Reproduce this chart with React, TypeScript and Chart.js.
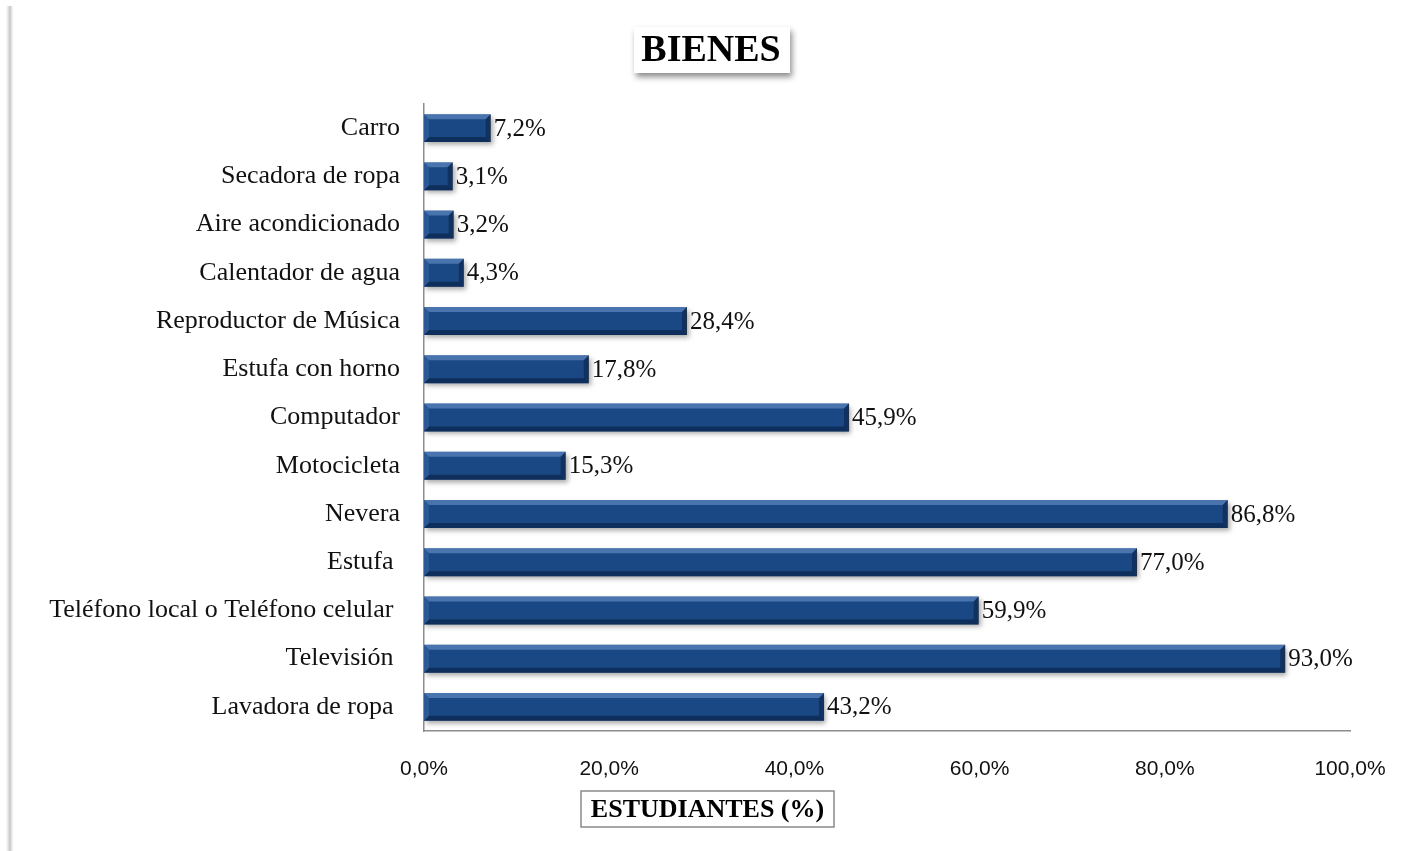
import React, { useEffect, useRef } from "react";
import { Chart, registerables } from "chart.js";

Chart.register(...registerables);

const categories = [
  "Carro",
  "Secadora de ropa",
  "Aire acondicionado",
  "Calentador de agua",
  "Reproductor de Música",
  "Estufa con horno",
  "Computador",
  "Motocicleta",
  "Nevera",
  "Estufa ",
  "Teléfono local o Teléfono celular ",
  "Televisión ",
  "Lavadora de ropa ",
];
const values = [7.2, 3.1, 3.2, 4.3, 28.4, 17.8, 45.9, 15.3, 86.8, 77.0, 59.9, 93.0, 43.2];
const chartTitle = "BIENES";
const xAxisTitle = "ESTUDIANTES (%)";

const fmt = (v: number) => v.toFixed(1).replace(".", ",") + "%";
const SERIF = "'Liberation Serif', 'Times New Roman', serif";

const decorPlugin = {
  id: "decor",
  beforeDraw(chart: any) {
    const ctx = chart.ctx;
    ctx.save();
    ctx.fillStyle = "#ffffff";
    ctx.fillRect(0, 0, chart.width, chart.height);
    const g = ctx.createLinearGradient(6, 0, 14, 0);
    g.addColorStop(0, "rgba(200,200,200,0)");
    g.addColorStop(0.5, "rgba(190,190,190,0.9)");
    g.addColorStop(1, "rgba(230,230,230,0)");
    ctx.fillStyle = g;
    ctx.fillRect(6, 6, 8, chart.height - 6);
    ctx.restore();
  },
  beforeDatasetsDraw(chart: any) {
    const ctx = chart.ctx;
    ctx.save();
    ctx.shadowColor = "rgba(0,0,0,0.35)";
    ctx.shadowBlur = 5;
    ctx.shadowOffsetX = 2;
    ctx.shadowOffsetY = 3;
  },
  afterDatasetsDraw(chart: any) {
    const ctx = chart.ctx;
    ctx.restore();
    const meta = chart.getDatasetMeta(0);
    ctx.save();
    meta.data.forEach((bar: any, i: number) => {
      const x0 = bar.base;
      const x1 = bar.x;
      const h = bar.height;
      const top = bar.y - h / 2;
      const bot = bar.y + h / 2;
      const bev = 5;
      ctx.fillStyle = "rgba(120,160,215,0.5)";
      ctx.beginPath();
      ctx.moveTo(x0, top);
      ctx.lineTo(x1, top);
      ctx.lineTo(x1 - bev, top + bev);
      ctx.lineTo(x0 + bev, top + bev);
      ctx.closePath();
      ctx.fill();
      ctx.fillStyle = "rgba(5,25,60,0.55)";
      ctx.beginPath();
      ctx.moveTo(x0, bot);
      ctx.lineTo(x1, bot);
      ctx.lineTo(x1 - bev, bot - bev);
      ctx.lineTo(x0 + bev, bot - bev);
      ctx.closePath();
      ctx.fill();
      ctx.fillStyle = "rgba(5,25,60,0.45)";
      ctx.beginPath();
      ctx.moveTo(x1, top);
      ctx.lineTo(x1, bot);
      ctx.lineTo(x1 - bev, bot - bev);
      ctx.lineTo(x1 - bev, top + bev);
      ctx.closePath();
      ctx.fill();
      ctx.fillStyle = "rgba(80,120,180,0.35)";
      ctx.beginPath();
      ctx.moveTo(x0, top);
      ctx.lineTo(x0, bot);
      ctx.lineTo(x0 + bev, bot - bev);
      ctx.lineTo(x0 + bev, top + bev);
      ctx.closePath();
      ctx.fill();
      ctx.fillStyle = "#111";
      ctx.font = "25px " + SERIF;
      ctx.textAlign = "left";
      ctx.textBaseline = "middle";
      ctx.fillText(fmt(values[i]), x1 + 3, bar.y + 1);
    });
    ctx.restore();
  },
  afterDraw(chart: any) {
    const ctx = chart.ctx;
    ctx.save();
    ctx.shadowColor = "rgba(0,0,0,0.45)";
    ctx.shadowBlur = 6;
    ctx.shadowOffsetX = 2;
    ctx.shadowOffsetY = 4;
    ctx.fillStyle = "#ffffff";
    ctx.fillRect(634, 27, 156, 46);
    ctx.shadowColor = "transparent";
    ctx.fillStyle = "#000";
    ctx.font = "bold 38px " + SERIF;
    ctx.textAlign = "center";
    ctx.textBaseline = "middle";
    ctx.fillText(chartTitle, 711, 51);
    ctx.fillStyle = "#ffffff";
    ctx.fillRect(581, 791, 253, 36);
    ctx.strokeStyle = "#8a8a8a";
    ctx.lineWidth = 1.5;
    ctx.strokeRect(581, 791, 253, 36);
    ctx.fillStyle = "#000";
    ctx.font = "bold 26px " + SERIF;
    ctx.fillText(xAxisTitle, 707.5, 810);
    ctx.restore();
  },
};

export default function App() {
  const ref = useRef<HTMLCanvasElement | null>(null);
  useEffect(() => {
    if (!ref.current) return;
    const chart = new Chart(ref.current, {
      type: "bar",
      data: {
        labels: categories,
        datasets: [
          {
            data: values,
            backgroundColor: "#1a4884",
            borderWidth: 0,
            categoryPercentage: 1,
            barPercentage: 0.58,
          },
        ],
      },
      options: {
        indexAxis: "y",
        animation: false,
        responsive: false,
        maintainAspectRatio: false,
        layout: { padding: { left: 0, top: 104, right: 54, bottom: 0 } },
        plugins: {
          legend: { display: false },
          tooltip: { enabled: false },
          title: { display: false },
        },
        scales: {
          x: {
            min: 0,
            max: 100,
            ticks: {
              stepSize: 20,
              padding: 26,
              color: "#111",
              font: { family: "'Liberation Sans', Arial, sans-serif", size: 21 },
              callback: (v: any) => fmt(Number(v)),
            },
            grid: { display: false, drawTicks: false },
            border: { display: true, color: "#8c8c8c", width: 1.5 },
            afterFit: (s: any) => {
              s.height = 120;
              s.paddingLeft = 0;
              s.paddingRight = 0;
            },
          },
          y: {
            ticks: {
              padding: 24,
              color: "#111",
              font: { family: SERIF, size: 26 },
              autoSkip: false,
            },
            grid: { display: false, drawTicks: false },
            border: { display: true, color: "#8c8c8c", width: 1.5 },
            afterFit: (s: any) => {
              s.width = 424;
              s.paddingTop = 0;
              s.paddingBottom = 0;
            },
          },
        },
      },
      plugins: [decorPlugin],
    });
    return () => chart.destroy();
  }, []);
  return (
    <div style={{ position: "fixed", left: 0, top: 0, width: 1404, height: 851, background: "#fff" }}>
      <canvas ref={ref} width={1404} height={851} style={{ width: 1404, height: 851, display: "block" }} />
    </div>
  );
}
